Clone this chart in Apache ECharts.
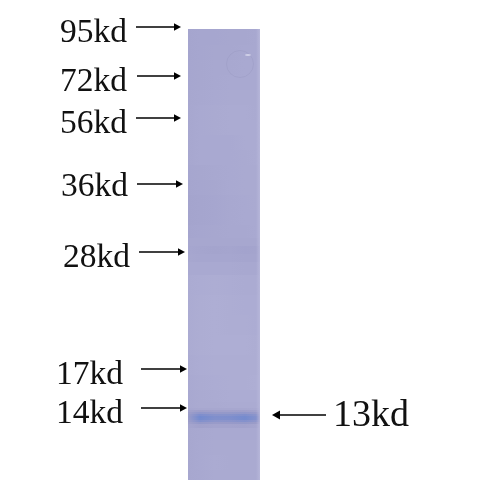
<!DOCTYPE html>
<html><head><meta charset="utf-8">
<style>html,body{margin:0;padding:0;background:#fff}#c{width:491px;height:480px}</style>
<script src="https://cdn.jsdelivr.net/npm/echarts@6/dist/echarts.min.js"></script>
</head><body><div id="c"></div>
<script>
// Ladder markers
const markerLabels = ['95kd','72kd','56kd','36kd','28kd','17kd','14kd'];
const markerArrowY = [27,76,118,184,252,369,408];
const markerLabelY = [33,82,124,187,258,375,414];
const markerLabelEnd = [127,127,127,128,130,123,123];
const markerArrowFrom = [136,137,136,137,139,141,141];
const markerArrowTo = [181,181,181,183,185,187,187];
// Detected band
const bandLabel = ['13kd'];
const bandArrowY = [415];
// Lane samples: positions across the lane, row tops, darkness per row
const laneX = [188,200,215,230,245,256,260];
const laneRowY = [29,45,60,75,90,105,120,135,150,165,180,195,210,225,238,246,254,262,275,295,315,335,355,375,390,402,408,410,412,414,416,418,420,422,424,428,440,455,470];
const laneDark = [
 [21,20,20,19,19,18,4],[21,20,19,19,18,18,4],[20,19,18,18,17,17,4],[20,19,18,17,17,17,4],
 [19,18,17,16,16,16,4],[19,17,16,15,15,16,4],[19,17,16,15,15,15,4],[19,17,17,17,15,15,4],
 [19,17,17,17,16,15,4],[20,19,18,17,16,16,4],[21,20,19,17,16,16,4],[22,21,20,18,17,16,4],
 [22,21,20,18,17,17,4],[21,20,19,18,18,17,4],[19,19,19,19,19,19,4],[20,21,22,21,23,22,5],
 [19,20,20,20,21,21,5],[17,17,17,17,18,18,4],[15,14,13,14,15,15,4],[15,13,12,13,14,14,4],
 [15,13,12,13,13,14,4],[15,13,12,12,12,13,4],[16,14,13,13,13,13,4],[17,15,14,13,13,12,4],
 [18,16,15,14,14,14,4],[18,16,16,15,15,15,4],[20,19,19,19,19,18,5],[24,28,26,26,27,24,5],
 [28,42,36,37,40,34,6],[31,58,48,49,56,45,7],[32,68,56,58,66,52,8],[31,66,55,56,66,52,8],
 [28,54,45,46,52,42,7],[25,38,33,34,37,31,5],[21,25,23,23,24,21,4],[19,18,17,17,17,17,4],
 [19,17,16,16,16,16,4],[19,17,15,16,16,16,4],[19,18,16,16,16,16,4]];
// Faint ring on the membrane and its glint
const ringPoint = [[240,64]];
const glintPoint = [[248,55]];

function mix(a,b,t){return a.map((v,i)=>Math.round(v+(b[i]-v)*t));}
function shade(d){
  const c = d<=30 ? mix([186,186,220],[156,156,200],d/30) : mix([156,156,200],[80,122,212],(d-30)/70);
  return 'rgb('+c.join(',')+')';
}
const laneData = laneRowY.map((y,i)=>[y, i+1<laneRowY.length?laneRowY[i+1]:480, i]);

function renderLane(p,api){
  const y0=api.value(0), y1=api.value(1), row=laneDark[api.value(2)];
  const a=api.coord([laneX[0],y0]), b=api.coord([laneX[laneX.length-1],y1]);
  const w=b[0]-a[0];
  return {type:'rect',shape:{x:a[0],y:a[1],width:w,height:b[1]-a[1]+0.5},
    style:{fill:{type:'linear',x:0,y:0,x2:1,y2:0,colorStops:laneX.map((x,i)=>({offset:(x-laneX[0])/(laneX[laneX.length-1]-laneX[0]),color:shade(row[i])}))}}};
}
function arrow(x0,x1,y,api,head){
  const a=api.coord([x0,y]), b=api.coord([x1,y]), s=Math.sign(b[0]-a[0]);
  return [
    {type:'line',shape:{x1:a[0],y1:a[1],x2:b[0]-s*head,y2:b[1]},style:{stroke:'#000',lineWidth:1.3}},
    {type:'polygon',shape:{points:[[b[0],b[1]],[b[0]-s*head,b[1]-head*0.55],[b[0]-s*head,b[1]+head*0.55]]},style:{fill:'#000'}}
  ];
}
const markerData = markerLabels.map((n,i)=>[markerArrowFrom[i],markerArrowTo[i],markerArrowY[i],markerLabelEnd[i],markerLabelY[i],n]);

const chart = echarts.init(document.getElementById('c'),null,{renderer:'canvas'});
chart.setOption({
  animation:false,
  backgroundColor:'#fff',
  grid:{left:0,top:0,right:0,bottom:0},
  xAxis:{type:'value',min:0,max:491,show:false},
  yAxis:{type:'value',min:0,max:480,inverse:true,show:false},
  series:[
    {type:'custom',data:laneData,renderItem:renderLane,silent:true},
    {type:'scatter',data:ringPoint,symbol:'circle',symbolSize:27,silent:true,z:3,
     itemStyle:{color:'rgba(0,0,0,0)',borderColor:'rgba(140,140,180,0.3)',borderWidth:1}},
    {type:'scatter',data:glintPoint,symbol:'circle',symbolSize:[6,2],silent:true,z:3,
     itemStyle:{color:'rgba(240,240,252,0.7)'}},
    {type:'custom',data:markerData,silent:true,z:4,
     renderItem(p,api){
       const y=api.value(4), e=api.coord([api.value(3),y]);
       return {type:'group',children:[
         ...arrow(api.value(0),api.value(1),api.value(2),api,7),
         {type:'text',style:{text:markerLabels[p.dataIndex],x:e[0],y:e[1],align:'right',verticalAlign:'middle',
            font:'33.5px "Liberation Serif"',fill:'#111'}}
       ]};
     }},
    {type:'custom',data:[[326,272,bandArrowY[0],333,bandArrowY[0]+1]],silent:true,z:4,
     renderItem(p,api){
       const y=api.value(2), s=api.coord([api.value(3),api.value(4)]);
       return {type:'group',children:[
         ...arrow(api.value(0),api.value(1),y,api,8),
         {type:'text',style:{text:bandLabel[0],x:s[0],y:s[1],align:'left',verticalAlign:'middle',
            font:'38px "Liberation Serif"',fill:'#111'}}
       ]};
     }}
  ]
});
</script></body></html>
